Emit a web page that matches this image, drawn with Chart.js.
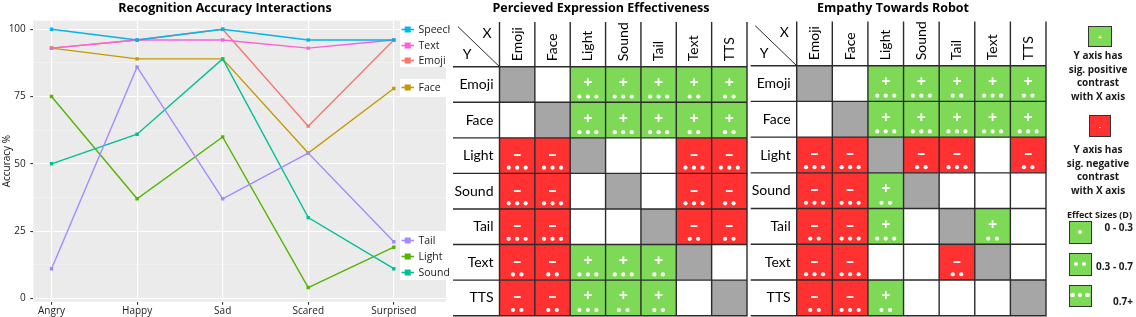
<!DOCTYPE html>
<html><head><meta charset="utf-8">
<script src="https://cdn.jsdelivr.net/npm/chart.js@4.4.1/dist/chart.umd.min.js"></script>
<style>
html,body{margin:0;padding:0;background:#fff;width:1136px;height:317px;overflow:hidden;}
canvas{position:absolute;top:0;}
#c1{left:0;} #c2{left:450px;} #c3{left:748px;}
#lg{position:absolute;left:1048px;top:0;width:88px;height:317px;font-family:'Open Sans',sans-serif;font-weight:bold;color:#1a1a1a;}
#lg .box{position:absolute;box-sizing:border-box;border:1.5px solid #333;}
#lg .txt{position:absolute;left:0;width:100px;text-align:center;font-size:10px;line-height:13.7px;white-space:nowrap;}
#lg .tiny{position:absolute;left:0;right:0;top:50%;transform:translateY(-50%);text-align:center;color:#fff;font-size:7px;line-height:7px;}
#lg .dot{position:absolute;width:4.4px;height:4.4px;border-radius:50%;background:#fff;}
#lg .lab{position:absolute;right:3px;font-size:10px;line-height:12px;white-space:nowrap;}
</style></head><body>
<canvas id="c1" width="450" height="317"></canvas>
<canvas id="c2" width="300" height="317"></canvas>
<canvas id="c3" width="300" height="317"></canvas>
<div id="lg"></div>
<script>
// ---------------- DATA ----------------
const categories = ['Angry', 'Happy', 'Sad', 'Scared', 'Surprised'];
const speech = [100, 96, 100, 96, 96];
const text   = [93, 96, 96, 93, 96];
const emoji  = [93, 96, 100, 64, 96];
const face   = [93, 89, 89, 54, 78];
const light  = [75, 37, 60, 4, 19];
const sound  = [50, 61, 89, 30, 11];
const tail   = [11, 86, 37, 54, 21];
const yTickValues = [0, 25, 50, 75, 100];
const yMinorValues = [12.5, 37.5, 62.5, 87.5];

const modalities = ['Emoji', 'Face', 'Light', 'Sound', 'Tail', 'Text', 'TTS'];
// rows = Y modality, columns = X modality; null = same modality, 0 = no sig. contrast,
// +n / -n = sig. positive / negative contrast with n effect-size dots
const perceivedEmoji = [null, 0, 3, 3, 3, 2, 2];
const perceivedFace  = [0, null, 3, 3, 3, 2, 2];
const perceivedLight = [-3, -3, null, 0, 0, -3, -3];
const perceivedSound = [-3, -3, 0, null, 0, -3, -2];
const perceivedTail  = [-3, -3, 0, 0, null, -2, -2];
const perceivedText  = [-2, -2, 3, 3, 2, null, 0];
const perceivedTTS   = [-2, -2, 3, 2, 2, 0, null];

const empathyEmoji = [null, 0, 3, 3, 2, 3, 2];
const empathyFace  = [0, null, 3, 3, 3, 3, 3];
const empathyLight = [-3, -3, null, -2, -3, 0, -2];
const empathySound = [-3, -3, 2, null, 0, 0, 0];
const empathyTail  = [-2, -3, 3, 0, null, 2, 0];
const empathyText  = [-3, -3, 0, 0, -2, null, 0];
const empathyTTS   = [-2, -3, 2, 0, 0, 0, null];

const effectLevels = [1, 2, 3];
const effectLabels = ['0 - 0.3', '0.3 - 0.7', '0.7+'];

// ---------------- STYLE ----------------
const GREEN = '#7ED957', RED = '#FF3131', GRAY = '#A6A6A6', LINE = '#2b2b2b';
Chart.defaults.font.family = "'Open Sans', sans-serif";
Chart.defaults.color = '#333';

// ---------------- LINE CHART ----------------
const series = [
  ['Speech', speech, '#00B6EB'],
  ['Text', text, '#FB61D7'],
  ['Tail', tail, '#A58AFF'],
  ['Sound', sound, '#00C094'],
  ['Light', light, '#53B400'],
  ['Face', face, '#C49A00'],
  ['Emoji', emoji, '#F8766D']
];
const legendSlots = [
  {box: [400, 20.7, 52, 46.3], items: [['Speech', 29.5], ['Text', 45.5], ['Emoji', 60.5]]},
  {box: [400, 79, 52, 17], items: [['Face', 87.5]]},
  {box: [400, 232, 52, 48], items: [['Tail', 240.5], ['Light', 256.5], ['Sound', 272.5]]}
];
const panelPlugin = {
  id: 'panel',
  beforeDraw(chart) {
    const {ctx, chartArea: a} = chart;
    ctx.save();
    ctx.fillStyle = '#fff'; ctx.fillRect(0, 0, chart.width, chart.height);
    ctx.fillStyle = '#EBEBEB'; ctx.fillRect(a.left, a.top, a.right - a.left, a.bottom - a.top);
    ctx.restore();
  },
  afterDatasetsDraw(chart) {
    const ctx = chart.ctx;
    ctx.save();
    legendSlots.forEach(g => {
      ctx.fillStyle = '#fff';
      ctx.fillRect(g.box[0], g.box[1], g.box[2], g.box[3]);
      g.items.forEach(([label, py]) => {
        const ds = chart.data.datasets.find(d => d.label === label);
        ctx.strokeStyle = ds.borderColor; ctx.lineWidth = 1.6;
        ctx.beginPath(); ctx.moveTo(401.5, py); ctx.lineTo(414, py); ctx.stroke();
        ctx.fillStyle = ds.borderColor; ctx.fillRect(404.7, py - 3, 6, 6);
        ctx.fillStyle = '#1a1a1a';
        ctx.font = "10.5px 'Open Sans'";
        ctx.textAlign = 'left'; ctx.textBaseline = 'middle';
        ctx.fillText(label, 418.5, py + 0.5);
      });
    });
    ctx.restore();
  }
};
new Chart(document.getElementById('c1'), {
  type: 'line',
  data: {
    datasets: series.map(([label, vals, col]) => ({
      label, data: vals.map((v, i) => ({x: i, y: v})),
      borderColor: col, backgroundColor: col, borderWidth: 1.4,
      pointStyle: 'rect', pointRadius: 2.4, pointBorderWidth: 0, tension: 0
    }))
  },
  options: {
    responsive: false, animation: false, events: [],
    layout: {padding: 0},
    plugins: {
      legend: {display: false}, tooltip: {enabled: false},
      title: {display: true, text: 'Recognition Accuracy Interactions', color: '#000',
        font: {size: 12.5, weight: 'bold'}, padding: {top: 1, bottom: 4.7}}
    },
    scales: {
      x: {
        type: 'linear', min: -0.213, max: 4.61,
        afterBuildTicks: s => { s.ticks = categories.map((c, i) => ({value: i})); },
        afterFit: s => { s.height = 15.3; },
        ticks: {autoSkip: false, maxRotation: 0, padding: 0, color: '#222', font: {size: 10},
          callback: v => categories[v]},
        grid: {color: '#fff', lineWidth: 1.1, tickColor: '#333', tickLength: 3},
        border: {display: false}
      },
      y: {
        type: 'linear', min: -1.26, max: 103.2,
        afterBuildTicks: s => {
          s.ticks = yTickValues.concat(yMinorValues).sort((a, b) => a - b).map(v => ({value: v}));
        },
        afterFit: s => { s.width = 33.3; },
        ticks: {autoSkip: false, padding: 4.5, color: '#222', font: {size: 10},
          callback: v => yTickValues.includes(v) ? String(v) : ''},
        grid: {
          color: c => yTickValues.includes(c.tick.value) ? '#fff' : 'rgba(255,255,255,0.6)',
          lineWidth: c => yTickValues.includes(c.tick.value) ? 1.1 : 0.55,
          tickColor: c => yTickValues.includes(c.tick.value) ? '#333' : 'rgba(0,0,0,0)',
          tickLength: 3
        },
        border: {display: false},
        title: {display: true, text: 'Accuracy %', color: '#111', font: {size: 10}, padding: {top: 1, bottom: 0}}
      }
    }
  },
  plugins: [panelPlugin]
});

// ---------------- CONTRAST TABLES ----------------
function tablePlugin(geom) {
  return {
    id: 'cells',
    beforeDraw(chart) {
      const ctx = chart.ctx;
      ctx.save(); ctx.fillStyle = '#fff'; ctx.fillRect(0, 0, chart.width, chart.height); ctx.restore();
    },
    afterDatasetsDraw(chart) {
      const {ctx, chartArea: a, scales: {x, y}} = chart;
      const n = modalities.length;
      const cw = x.width / n, ch = y.height / n;
      const ds = chart.data.datasets[0];
      const meta = chart.getDatasetMeta(0);
      ctx.save();
      meta.data.forEach((el, i) => {
        const v = ds.data[i].v;
        const l = el.x - cw / 2, t = el.y - ch / 2;
        ctx.fillStyle = v === null ? GRAY : v > 0 ? GREEN : v < 0 ? RED : '#fff';
        ctx.fillRect(l, t, cw, ch);
        if (v) {
          ctx.fillStyle = '#fff';
          ctx.font = "bold 16px 'Open Sans'";
          ctx.textAlign = 'center'; ctx.textBaseline = 'middle';
          ctx.fillText(v > 0 ? '+' : '–', el.x, t + ch * 0.47);
          const k = Math.abs(v);
          for (let d = 0; d < k; d++) {
            ctx.beginPath();
            ctx.arc(el.x + (d - (k - 1) / 2) * 8.5, t + ch * 0.84, 2.1, 0, Math.PI * 2);
            ctx.fill();
          }
        }
      });
      ctx.strokeStyle = LINE; ctx.lineWidth = 1.4;
      ctx.beginPath();
      for (let k = 0; k <= n; k++) {
        const py = y.getPixelForValue(k - 0.5);
        ctx.moveTo(geom.lineLeft, py); ctx.lineTo(a.right + 0.7, py);
        const px = x.getPixelForValue(k - 0.5);
        ctx.moveTo(px, geom.headerTop); ctx.lineTo(px, a.bottom + 0.7);
      }
      ctx.stroke();
      ctx.lineWidth = 1;
      ctx.beginPath(); ctx.moveTo(a.left - 41.5, a.top - 40); ctx.lineTo(a.left, a.top); ctx.stroke();

      ctx.fillStyle = '#000';
      ctx.font = "14px Lato";
      ctx.textBaseline = 'middle';
      ctx.textAlign = 'center';
      ctx.fillText('X', a.left - 12.5, a.top - 33);
      ctx.fillText('Y', a.left - 32.5, a.top - 12);
      ctx.textAlign = 'right';
      modalities.forEach((m, r) => ctx.fillText(m, a.left - 6, y.getPixelForValue(r)));
      modalities.forEach((m, c) => {
        ctx.save();
        ctx.translate(x.getPixelForValue(c), a.top - 5.5);
        ctx.rotate(-Math.PI / 2);
        ctx.textAlign = 'left';
        ctx.fillText(m, 0, 0);
        ctx.restore();
      });
      ctx.font = "bold 12.5px 'Open Sans'";
      ctx.textAlign = 'center';
      ctx.fillText(geom.title, geom.titleX, 8.5);
      ctx.restore();
    }
  };
}
function makeTable(id, rows, geom) {
  const pts = [];
  rows.forEach((row, r) => row.forEach((v, c) => pts.push({x: modalities[c], y: modalities[r], v})));
  new Chart(document.getElementById(id), {
    type: 'scatter',
    data: {datasets: [{data: pts, pointRadius: 0, pointHoverRadius: 0}]},
    options: {
      responsive: false, animation: false, events: [],
      layout: {padding: geom.padding},
      plugins: {legend: {display: false}, tooltip: {enabled: false}, title: {display: false}},
      scales: {
        x: {type: 'category', labels: modalities, offset: true, display: false},
        y: {type: 'category', labels: modalities, offset: true, display: false}
      }
    },
    plugins: [tablePlugin(geom)]
  });
}
makeTable('c2',
  [perceivedEmoji, perceivedFace, perceivedLight, perceivedSound, perceivedTail, perceivedText, perceivedTTS],
  {title: 'Percieved Expression Effectiveness', titleX: 151, lineLeft: 3, headerTop: 22,
   padding: {left: 49.5, right: 3, top: 66.7, bottom: 1.3}});
makeTable('c3',
  [empathyEmoji, empathyFace, empathyLight, empathySound, empathyTail, empathyText, empathyTTS],
  {title: 'Empathy Towards Robot', titleX: 145, lineLeft: 2.7, headerTop: 21.5,
   padding: {left: 48.7, right: 2, top: 65.7, bottom: 1.3}});

// ---------------- KEY ----------------
const lg = document.getElementById('lg');
let html = '';
html += `<div class="box" style="left:40px;top:26px;width:24px;height:21px;background:${GREEN}"><span class="tiny">+</span></div>`;
html += `<div class="txt" style="top:49px">Y axis has<br>sig. positive<br>contrast<br>with X axis</div>`;
html += `<div class="box" style="left:41px;top:115px;width:22px;height:22px;background:${RED}"><span class="tiny">-</span></div>`;
html += `<div class="txt" style="top:143px">Y axis has<br>sig. negative<br>contrast<br>with X axis</div>`;
html += `<div class="txt" style="top:209px;width:103px;font-size:9px;line-height:12px">Effect Sizes (D)</div>`;
const boxTops = [221, 253, 284.5], labCenters = [227.3, 265.7, 300.7];
effectLevels.forEach((k, i) => {
  let dots = '';
  for (let d = 0; d < k; d++) {
    const cx = 11.5 - 2.2 + (d - (k - 1) / 2) * 7.5 - 1.5;
    dots += `<div class="dot" style="left:${cx}px;top:${11.25 - 2.2 - 1.5}px"></div>`;
  }
  html += `<div class="box" style="left:21px;top:${boxTops[i]}px;width:23px;height:22.5px;background:${GREEN}">${dots}</div>`;
  html += `<div class="lab" style="top:${labCenters[i] - 6}px">${effectLabels[i]}</div>`;
});
lg.innerHTML = html;
</script>
</body></html>
